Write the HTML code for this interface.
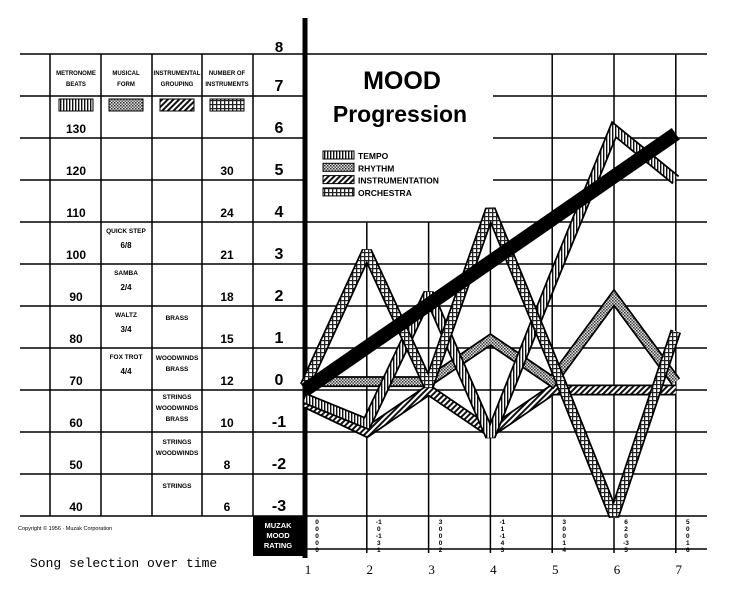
<!DOCTYPE html>
<html><head><meta charset="utf-8">
<style>
html,body{margin:0;padding:0;background:#fff;}
body{width:730px;height:589px;overflow:hidden;font-family:"Liberation Sans",sans-serif;}
svg{display:block;}
</style></head>
<body>
<svg id="chart" width="730" height="589" viewBox="0 0 730 589" xmlns="http://www.w3.org/2000/svg">
<defs>
<pattern id="pTempo" width="3" height="3" patternUnits="userSpaceOnUse"><rect width="3" height="3" fill="#fff"/><rect width="1.4" height="3" fill="#111"/></pattern>
<pattern id="pRhythm" width="3" height="3" patternUnits="userSpaceOnUse"><rect width="3" height="3" fill="#ddd"/><rect width="1.5" height="1.5" fill="#333"/><rect x="1.5" y="1.5" width="1.5" height="1.5" fill="#555"/></pattern>
<pattern id="pInstr" width="4" height="4" patternUnits="userSpaceOnUse" patternTransform="rotate(45)"><rect width="4" height="4" fill="#fff"/><rect width="2" height="4" fill="#111"/></pattern>
<pattern id="pOrch" width="4" height="4" patternUnits="userSpaceOnUse"><rect width="4" height="4" fill="#fff"/><rect width="1.3" height="4" fill="#222"/><rect width="4" height="1.2" fill="#222"/></pattern>
</defs>
<g id="grid" stroke="#000" stroke-width="1.5" fill="none"></g>
<g id="left" font-weight="bold" fill="#000"></g>
<g id="bands"></g>
<g id="legend"></g>
<g id="bottom"></g>
</svg>
<script>
const NS="http://www.w3.org/2000/svg";
const songs=[1,2,3,4,5,6,7];
const moodTicks=[8,7,6,5,4,3,2,1,0,-1,-2,-3];
const metronome=["130","120","110","100","90","80","70","60","50","40"];
const instruments=["","30","24","21","18","15","12","10","8","6"];
const tempo=[-0.2,-0.8,2.3,-1.1,2.6,6.2,5.0];
const rhythm=[0.2,0.2,0.2,1.2,0.2,2.2,0.2];
const instrumentation=[-0.3,-1.0,0.0,-1.0,0.0,0.0,0.0];
const orchestra=[0.1,3.3,0.1,4.3,0.7,-3.0,1.4];
const mood=[0,1,2,3,4,5,6.1];
const colDigits=[["0","0","0","0","0"],["-1","0","-1","3","1"],["3","0","0","0","2"],["-1","1","-1","4","3"],["3","0","0","1","4"],["6","2","0","-3","5"],["5","0","0","1","6"]];

function X(i){return 305+(i-1)*61.8;}
function Y(v){return 390-42*v;}
function el(tag,attrs,parent,text){const e=document.createElementNS(NS,tag);for(const k in attrs)e.setAttribute(k,attrs[k]);if(text!==undefined)e.textContent=text;parent.appendChild(e);return e;}

const grid=document.getElementById('grid');
moodTicks.forEach(v=>{
  const y=Y(v);
  const l=el('line',{x1:20,y1:y,x2:(v>=5&&v<=7)?303:707,y2:y},grid);
  
  
  if(v>=5&&v<=7){const l2=el('line',{x1:493,y1:y,x2:707,y2:y},grid);
  
  }
});
el('line',{x1:305,y1:549,x2:707,y2:549},grid);
songs.slice(1).forEach(s=>{
  const top=s>=5?Y(8):Y(4);
  const l=el('line',{x1:X(s),y1:top,x2:X(s),y2:553},grid);
  
  
});
[50,101,152,202,253].forEach(x=>{el('line',{x1:x,y1:Y(8),x2:x,y2:Y(-3)},grid);});
const ax=el('line',{x1:305,y1:18,x2:305,y2:558,'stroke-width':5},grid);



const left=document.getElementById('left');
el('text',{x:279,y:52,'font-size':15,'text-anchor':'middle'},left,'8');
moodTicks.slice(1).forEach(v=>{
  const t=el('text',{x:279,y:Y(v)-5,'font-size':16,'text-anchor':'middle'},left,String(v));
  
  
});
const hdr=[["METRONOME","BEATS",76],["MUSICAL","FORM",126],["INSTRUMENTAL","GROUPING",177],["NUMBER OF","INSTRUMENTS",227]];
hdr.forEach(h=>{el('text',{x:h[2],y:75,'font-size':6,'text-anchor':'middle'},left,h[0]);el('text',{x:h[2],y:86,'font-size':6,'text-anchor':'middle'},left,h[1]);});
[["pTempo",76],["pRhythm",126],["pInstr",177],["pOrch",227]].forEach(s=>{el('rect',{x:s[1]-17,y:99,width:34,height:12,fill:'url(#'+s[0]+')',stroke:'#000','stroke-width':1},left);});
metronome.forEach((m,i)=>{
  const y=Y(6-i)-5;
  el('text',{x:76,y:y,'font-size':12,'text-anchor':'middle'},left,m);
  if(instruments[i])el('text',{x:227,y:y,'font-size':12,'text-anchor':'middle'},left,instruments[i]);
});
const forms=[[3,"QUICK STEP","6/8"],[2,"SAMBA","2/4"],[1,"WALTZ","3/4"],[0,"FOX TROT","4/4"]];
forms.forEach(f=>{const y0=Y(f[0]+1);el('text',{x:126,y:y0+11,'font-size':6.5,'text-anchor':'middle'},left,f[1]);el('text',{x:126,y:y0+26,'font-size':8,'text-anchor':'middle'},left,f[2]);});
const groups=[[1,["BRASS"],14],[0,["WOODWINDS","BRASS"],12],[-1,["STRINGS","WOODWINDS","BRASS"],9],[-2,["STRINGS","WOODWINDS"],12],[-3,["STRINGS"],14]];
groups.forEach(g=>{const y0=Y(g[0]+1);g[1].forEach((t,k)=>el('text',{x:177,y:y0+g[2]+k*11,'font-size':6.5,'text-anchor':'middle'},left,t));});
el('text',{x:18,y:530,'font-size':5.5,'font-weight':'normal'},left,'Copyright © 1956 · Muzak Corporation');
const st=el('text',{x:30,y:567,'font-size':13,'font-weight':'normal','font-family':'Liberation Mono, monospace'},left,'Song selection over time');


const box=el('rect',{x:253,y:516,width:51,height:40,fill:'#000'},left);


["MUZAK","MOOD","RATING"].forEach((t,k)=>el('text',{x:278,y:528+k*10,'font-size':7.5,fill:'#fff','text-anchor':'middle'},left,t));

const bands=document.getElementById('bands');
function band(vals,pat,name){
  const pts=vals.map((v,i)=>X(songs[i])+','+Y(v)).join(' ');
  const g=el('g',{},bands);
  
  
  el('polyline',{points:pts,fill:'none',stroke:'#000','stroke-width':11,'stroke-linejoin':'miter','stroke-miterlimit':2},g);
  el('polyline',{points:pts,fill:'none',stroke:'url(#'+pat+')','stroke-width':7.5,'stroke-linejoin':'miter','stroke-miterlimit':2},g);
}
band(instrumentation,'pInstr','instrumentation-series');
band(rhythm,'pRhythm','rhythm-series');
band(tempo,'pTempo','tempo-series');
band(orchestra,'pOrch','orchestra-series');
const ml=el('line',{x1:X(1),y1:Y(mood[0]),x2:X(7),y2:Y(mood[6]),stroke:'#000','stroke-width':14},bands);



const lg=document.getElementById('legend');
el('rect',{x:312,y:57,width:178,height:148,fill:'#fff'},lg);
const t1=el('text',{x:402,y:89,'font-size':25,'font-weight':'bold','text-anchor':'middle'},lg,'MOOD');


el('text',{x:400,y:122,'font-size':23,'font-weight':'bold','text-anchor':'middle'},lg,'Progression');
[["pTempo","TEMPO"],["pRhythm","RHYTHM"],["pInstr","INSTRUMENTATION"],["pOrch","ORCHESTRA"]].forEach((e,k)=>{
  const g=el('g',{},lg);
  
  
  el('rect',{x:323,y:151+k*12.3,width:31,height:8,fill:'url(#'+e[0]+')',stroke:'#000','stroke-width':1},g);
  el('text',{x:358,y:159+k*12.3,'font-size':8.5,'font-weight':'bold'},g,e[1]);
});

const bt=document.getElementById('bottom');
songs.forEach((s,i)=>{
  colDigits[i].forEach((d,k)=>el('text',{x:X(s)+12,y:524+k*7,'font-size':6.5,'font-weight':'bold','text-anchor':'middle'},bt,d));
  const t=el('text',{x:X(s)+3,y:574,'font-size':13,'text-anchor':'middle','font-family':'Liberation Serif, serif'},bt,String(s));
  
  
});
</script>
</body></html>
